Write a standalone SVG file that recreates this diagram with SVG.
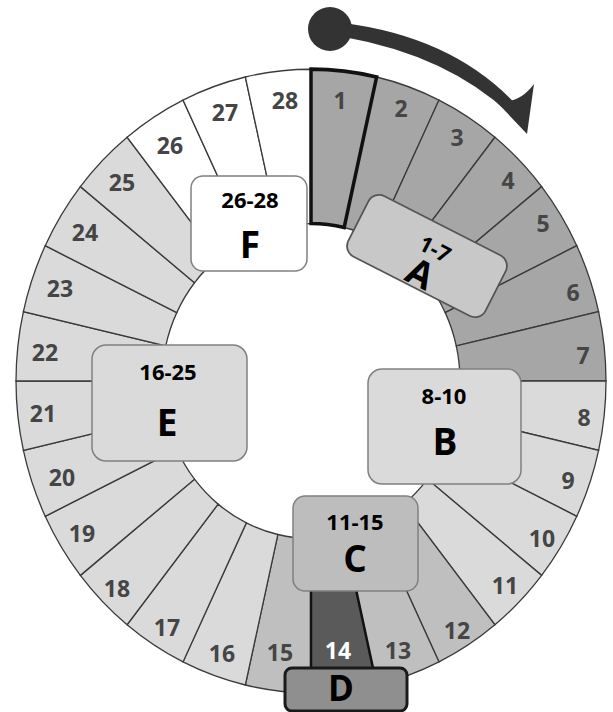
<svg xmlns="http://www.w3.org/2000/svg" xmlns:xlink="http://www.w3.org/1999/xlink" width="613" height="712" viewBox="0 0 613 712">
<defs>
<style>
.seg{stroke:#3a3a3a;stroke-width:1.3}
.d{fill:#a6a6a6}.l{fill:#dadada}.m{fill:#bfbfbf}.w{fill:#ffffff}.k{fill:#5a5a5a}
.n{font-family:"Open Sans","Liberation Sans",sans-serif;font-weight:700;font-size:23px;fill:#454545;text-anchor:middle}
.t{font-family:"Open Sans","Liberation Sans",sans-serif;font-weight:700;font-size:22px;fill:#000;text-anchor:middle}
.b{font-family:"Open Sans","Liberation Sans",sans-serif;font-weight:700;font-size:37px;fill:#000;text-anchor:middle}
.box{stroke:#808080;stroke-width:1.5}
</style>
<path id="w" d="M0,-295 A295,295 0 0 1 65.64,-287.60 L33.16,-145.26 A149,149 0 0 0 0,-149 Z"/>
</defs>
<rect width="613" height="712" fill="#ffffff"/>
<g id="ring" transform="translate(311,381) scale(1,1.057)">
<g id="seg1"><use xlink:href="#w" class="seg d" transform="rotate(0)"/></g>
<g id="seg2"><use xlink:href="#w" class="seg d" transform="rotate(12.857)"/></g>
<g id="seg3"><use xlink:href="#w" class="seg d" transform="rotate(25.714)"/></g>
<g id="seg4"><use xlink:href="#w" class="seg d" transform="rotate(38.571)"/></g>
<g id="seg5"><use xlink:href="#w" class="seg d" transform="rotate(51.429)"/></g>
<g id="seg6"><use xlink:href="#w" class="seg d" transform="rotate(64.286)"/></g>
<g id="seg7"><use xlink:href="#w" class="seg d" transform="rotate(77.143)"/></g>
<g id="seg8"><use xlink:href="#w" class="seg l" transform="rotate(90)"/></g>
<g id="seg9"><use xlink:href="#w" class="seg l" transform="rotate(102.857)"/></g>
<g id="seg10"><use xlink:href="#w" class="seg l" transform="rotate(115.714)"/></g>
<g id="seg11"><use xlink:href="#w" class="seg l" transform="rotate(128.571)"/></g>
<g id="seg12"><use xlink:href="#w" class="seg m" transform="rotate(141.429)"/></g>
<g id="seg13"><use xlink:href="#w" class="seg m" transform="rotate(154.286)"/></g>
<g id="seg15"><use xlink:href="#w" class="seg m" transform="rotate(180)"/></g>
<g id="seg16"><use xlink:href="#w" class="seg l" transform="rotate(192.857)"/></g>
<g id="seg17"><use xlink:href="#w" class="seg l" transform="rotate(205.714)"/></g>
<g id="seg18"><use xlink:href="#w" class="seg l" transform="rotate(218.571)"/></g>
<g id="seg19"><use xlink:href="#w" class="seg l" transform="rotate(231.429)"/></g>
<g id="seg20"><use xlink:href="#w" class="seg l" transform="rotate(244.286)"/></g>
<g id="seg21"><use xlink:href="#w" class="seg l" transform="rotate(257.143)"/></g>
<g id="seg22"><use xlink:href="#w" class="seg l" transform="rotate(270)"/></g>
<g id="seg23"><use xlink:href="#w" class="seg l" transform="rotate(282.857)"/></g>
<g id="seg24"><use xlink:href="#w" class="seg l" transform="rotate(295.714)"/></g>
<g id="seg25"><use xlink:href="#w" class="seg l" transform="rotate(308.571)"/></g>
<g id="seg26"><use xlink:href="#w" class="seg w" transform="rotate(321.429)"/></g>
<g id="seg27"><use xlink:href="#w" class="seg w" transform="rotate(334.286)"/></g>
<g id="seg28"><use xlink:href="#w" class="seg w" transform="rotate(347.143)"/></g>
<g id="seg14"><use xlink:href="#w" class="k" stroke="#111" stroke-width="2.5" transform="rotate(167.143)"/></g>
<use xlink:href="#w" fill="none" stroke="#111" stroke-width="3.5" transform="rotate(0)"/>
</g>
<g id="numbers">
<text class="n" x="340" y="109">1</text>
<text class="n" x="401" y="117">2</text>
<text class="n" x="457" y="146">3</text>
<text class="n" x="508" y="189">4</text>
<text class="n" x="543" y="232">5</text>
<text class="n" x="573" y="301">6</text>
<text class="n" x="583" y="364">7</text>
<text class="n" x="584" y="426">8</text>
<text class="n" x="568" y="489">9</text>
<text class="n" x="542" y="547">10</text>
<text class="n" x="505" y="594">11</text>
<text class="n" x="457" y="639">12</text>
<text class="n" x="398" y="659">13</text>
<text class="n" x="338" y="659" style="fill:#ffffff">14</text>
<text class="n" x="280" y="661">15</text>
<text class="n" x="222" y="662">16</text>
<text class="n" x="167" y="636">17</text>
<text class="n" x="117" y="597">18</text>
<text class="n" x="82" y="542">19</text>
<text class="n" x="62" y="486">20</text>
<text class="n" x="43" y="422">21</text>
<text class="n" x="45" y="361">22</text>
<text class="n" x="60" y="297">23</text>
<text class="n" x="85" y="241">24</text>
<text class="n" x="122" y="191">25</text>
<text class="n" x="170" y="154">26</text>
<text class="n" x="225" y="121">27</text>
<text class="n" x="285" y="109">28</text>
</g>
<g id="A" transform="translate(427,256) rotate(27)">
<rect x="-77" y="-34" width="154" height="68" rx="12" fill="#c8c8c8" stroke="#555" stroke-width="1.8"/>
<text class="t" x="4" y="-2">1-7</text>
<text class="b" x="2" y="32">A</text>
</g>
<g id="B">
<rect class="box" x="368" y="369" width="153" height="115" rx="14" fill="#dadada"/>
<text class="t" x="444" y="404">8-10</text>
<text class="b" x="445" y="455">B</text>
</g>
<g id="C">
<rect class="box" x="293" y="496" width="125" height="95" rx="12" fill="#bdbdbd"/>
<text class="t" x="355" y="530">11-15</text>
<text class="b" x="355" y="572">C</text>
</g>
<g id="D">
<rect x="285" y="668" width="122" height="43" rx="7" fill="#8f8f8f" stroke="#1a1a1a" stroke-width="3"/>
<text class="b" x="341" y="701" style="font-size:35px">D</text>
</g>
<g id="E">
<rect class="box" x="92" y="345" width="155" height="116" rx="14" fill="#dadada"/>
<text class="t" x="168" y="380">16-25</text>
<text class="b" x="167" y="436">E</text>
</g>
<g id="F">
<rect class="box" x="191" y="176" width="116" height="95" rx="12" fill="#ffffff"/>
<text class="t" x="250" y="208">26-28</text>
<text class="b" x="250" y="258">F</text>
</g>
<g id="connectors">
<circle cx="330" cy="29" r="22" fill="#333333"/>
<path d="M344,23 Q458,38 521,110 L513,117 Q450,56 344,37 Z" fill="#333333"/>
<path d="M492,97 Q515,109 534,84 L527,134 Z" fill="#333333"/>
</g>
</svg>
